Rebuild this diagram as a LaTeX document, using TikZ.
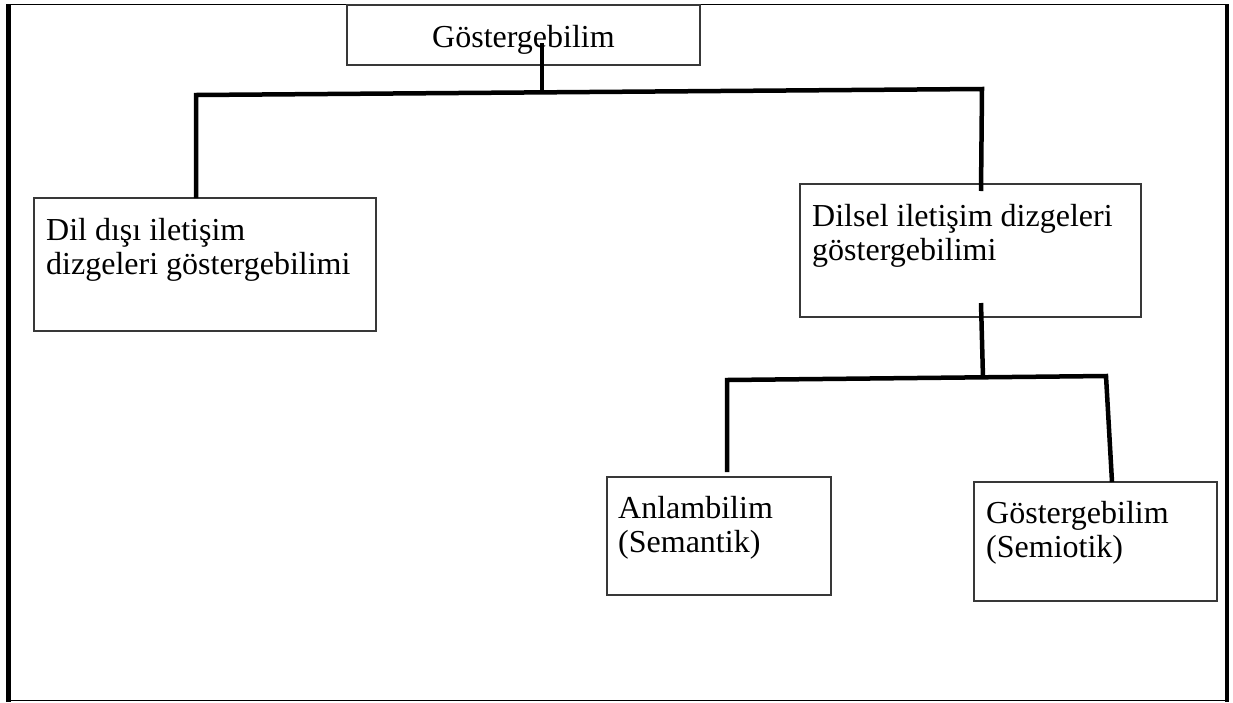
\documentclass[tikz,border=0pt]{standalone}
\usepackage{fontspec}
\setmainfont{Liberation Serif}
\begin{document}
\begin{tikzpicture}[x=1pt,y=-1pt,
  box/.style={draw=black!78,line width=1.3pt,rectangle,inner sep=0pt},
  lbl/.style={anchor=base west,inner sep=0pt,align=left,font=\fontsize{32}{34}\selectfont},
  conn/.style={line width=4.5pt,line join=miter,line cap=butt},
  thinframe/.style={line width=1.4pt},
  thickframe/.style={line width=4.8pt}]
\useasboundingbox (0,0) rectangle (1233,702);
% outer frame
\coordinate (ftl) at (6,4.5);
\coordinate (ftr) at (1229,4.5);
\coordinate (fbl) at (6,700.5);
\coordinate (fbr) at (1229,700.5);
\coordinate (lt) at (8.5,4);
\coordinate (lb) at (8.5,702);
\coordinate (rt) at (1227,4);
\coordinate (rb) at (1227,702);
\draw[thinframe] (ftl) -- (ftr);
\draw[thinframe] (fbl) -- (fbr);
\draw[thickframe] (lt) -- (lb);
\draw[thickframe] (rt) -- (rb);
% boxes
\node[box,minimum width=353,minimum height=60] (top) at (523.5,35) {};
\node[box,minimum width=342,minimum height=133] (left) at (205,264.5) {};
\node[box,minimum width=341,minimum height=133] (right) at (970.5,250.5) {};
\node[box,minimum width=224,minimum height=118] (anlam) at (719,536) {};
\node[box,minimum width=243,minimum height=119] (semio) at (1095.5,541.5) {};
% texts (anchor = baseline of the last line)
\node[lbl] (ttop) at (432,47) {Göstergebilim};
\node[lbl] (tleft) at (46,274) {Dil dışı iletişim\\dizgeleri göstergebilimi};
\node[lbl] (tright) at (812,260) {Dilsel iletişim dizgeleri\\göstergebilimi};
\node[lbl] (tanlam) at (618,552) {Anlambilim\\(Semantik)};
\node[lbl] (tsemio) at (986,557) {Göstergebilim\\(Semiotik)};
% connector points
\coordinate (a0) at (542,43);
\coordinate (a1) at (542,92.4);
\coordinate (b0) at (196,198);
\coordinate (b1) at (196,95);
\coordinate (b2) at (982,89);
\coordinate (b3) at (981,191);
\coordinate (c0) at (981,303);
\coordinate (c1) at (983,378);
\coordinate (d0) at (727,472);
\coordinate (d1) at (727,380);
\coordinate (d2) at (1106,376);
\coordinate (d3) at (1112,482);
\draw[conn] (a0) -- (a1);
\draw[conn] (b0) -- (b1) -- (b2) -- (b3);
\draw[conn] (c0) -- (c1);
\draw[conn] (d0) -- (d1) -- (d2) -- (d3);
\end{tikzpicture}
\end{document}
